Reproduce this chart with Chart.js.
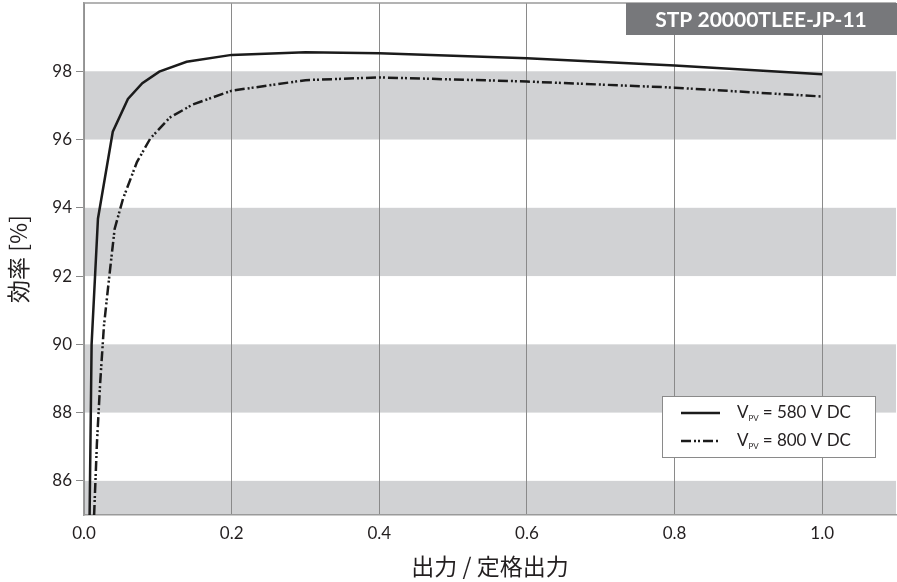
<!DOCTYPE html>
<html>
<head>
<meta charset="utf-8">
<script src="https://cdn.jsdelivr.net/npm/chart.js@4/dist/chart.umd.min.js"></script>
<style>
  html, body { margin: 0; padding: 0; background: #fff; }
  #wrap { width: 897px; height: 582px; position: relative; }
</style>
</head>
<body>
<div id="wrap"><canvas id="eff"></canvas></div>
<script>
// 効率曲線 (STP 20000TLEE-JP-11)
const xTicks = [0.0, 0.2, 0.4, 0.6, 0.8, 1.0];
const yTicks = [86, 88, 90, 92, 94, 96, 98];
const grayBands = [[84, 86], [88, 90], [92, 94], [96, 98]];

const load580 = [0.0076, 0.0103, 0.0189, 0.039, 0.0595, 0.079, 0.102, 0.139, 0.2, 0.3, 0.4, 0.6, 0.8, 1.0];
const eff580  = [85.0, 90.0, 93.68, 96.23, 97.19, 97.65, 97.99, 98.28, 98.48, 98.56, 98.53, 98.38, 98.17, 97.91];

const load800 = [0.0137, 0.0175, 0.022, 0.027, 0.0338, 0.0415, 0.0528, 0.0717, 0.0898, 0.116, 0.1476, 0.2, 0.3, 0.4, 0.6, 0.8, 1.0];
const eff800  = [85.0, 87.1, 88.9, 90.54, 91.9, 93.38, 94.26, 95.34, 96.03, 96.64, 97.03, 97.43, 97.74, 97.82, 97.7, 97.52, 97.26];

const seriesLabels = ['580 V DC', '800 V DC'];
const modelName = 'STP 20000TLEE-JP-11';

const toPoints = (xs, ys) => xs.map((x, i) => ({ x: x, y: ys[i] }));
const dashDotDot = [10, 3, 2, 2, 2, 3];
const textColor = '#231f20';
const axisColor = '#9a9a9a';
const tickFont = { family: 'Lato', size: 17 };
const titleFont = { family: 'Noto Sans CJK JP', size: 23, weight: '400' };

// 背景の灰色帯
const bandsPlugin = {
    id: 'bands',
    beforeDraw(chart) {
        const { ctx, chartArea: a, scales: { y } } = chart;
        ctx.save();
        ctx.fillStyle = '#d1d2d4';
        grayBands.forEach(([lo, hi]) => {
            const top = Math.max(y.getPixelForValue(hi), a.top);
            const bot = Math.min(y.getPixelForValue(lo), a.bottom);
            if (bot > top) ctx.fillRect(a.left, top, a.right - a.left, bot - top);
        });
        ctx.restore();
    }
};

// 上枠線・型式ラベル・凡例
const overlayPlugin = {
    id: 'overlay',
    afterDraw(chart) {
        const { ctx, chartArea: a } = chart;
        ctx.save();
        ctx.strokeStyle = axisColor;
        ctx.lineWidth = 1.5;
        ctx.beginPath();
        ctx.moveTo(a.left, a.top);
        ctx.lineTo(a.right, a.top);
        ctx.stroke();

        // model box
        ctx.fillStyle = '#77787b';
        ctx.fillRect(a.right - 270, a.top, 271, 32);
        ctx.fillStyle = '#fff';
        ctx.font = 'bold 21px Lato';
        ctx.textAlign = 'center';
        ctx.textBaseline = 'middle';
        ctx.fillText(modelName, a.right - 135, a.top + 17);

        // legend box
        const bx = 662, by = 396, bw = 213, bh = 61;
        ctx.fillStyle = '#fff';
        ctx.fillRect(bx, by, bw, bh);
        ctx.strokeStyle = '#8a8a8a';
        ctx.lineWidth = 1;
        ctx.strokeRect(bx + 0.5, by + 0.5, bw, bh);

        chart.data.datasets.forEach((ds, i) => {
            const ly = by + 17 + i * 28;
            ctx.strokeStyle = ds.borderColor;
            ctx.lineWidth = ds.borderWidth;
            ctx.setLineDash(ds.borderDash || []);
            ctx.beginPath();
            ctx.moveTo(bx + 19, ly);
            ctx.lineTo(bx + 58, ly);
            ctx.stroke();
            ctx.setLineDash([]);

            ctx.fillStyle = textColor;
            ctx.textAlign = 'left';
            ctx.textBaseline = 'middle';
            let tx = bx + 75;
            ctx.font = '17px Lato';
            ctx.fillText('V', tx, ly);
            tx += ctx.measureText('V').width;
            ctx.font = '8px Lato';
            ctx.fillText('PV', tx, ly + 5);
            tx += ctx.measureText('PV').width + 4;
            ctx.font = '17px Lato';
            ctx.fillText('= ' + seriesLabels[i], tx, ly);
        });
        ctx.restore();
    }
};

new Chart(document.getElementById('eff'), {
    type: 'line',
    data: {
        datasets: [
            {
                label: seriesLabels[0],
                data: toPoints(load580, eff580),
                borderColor: '#1b1b1b',
                borderWidth: 2.5,
                pointRadius: 0,
                tension: 0,
                fill: false
            },
            {
                label: seriesLabels[1],
                data: toPoints(load800, eff800),
                borderColor: '#1b1b1b',
                borderWidth: 2.5,
                borderDash: dashDotDot,
                pointRadius: 0,
                tension: 0,
                fill: false
            }
        ]
    },
    options: {
        responsive: true,
        maintainAspectRatio: false,
        animation: false,
        layout: { padding: { top: 3, right: 1, left: 0, bottom: 0 } },
        scales: {
            x: {
                type: 'linear',
                min: 0,
                max: 1.1,
                afterBuildTicks: s => { s.ticks = xTicks.map(v => ({ value: v })); },
                afterFit: s => { s.height = 67; s.paddingLeft = 0; s.paddingRight = 0; },
                ticks: {
                    color: textColor,
                    font: tickFont,
                    padding: 8,
                    maxRotation: 0,
                    callback: v => v.toFixed(1)
                },
                grid: { color: '#8a8a8a', lineWidth: 1, drawTicks: false },
                border: { display: true, color: axisColor, width: 1.5 },
                title: {
                    display: true,
                    text: '出力 / 定格出力',
                    color: textColor,
                    font: titleFont,
                    padding: { top: 0, bottom: 2 }
                }
            },
            y: {
                type: 'linear',
                min: 85,
                max: 100,
                afterBuildTicks: s => { s.ticks = yTicks.map(v => ({ value: v })); },
                afterFit: s => { s.width = 84; s.paddingTop = 0; s.paddingBottom = 0; },
                ticks: { color: textColor, font: tickFont, padding: 4 },
                grid: { drawOnChartArea: false, drawTicks: true, tickLength: 8, color: '#8a8a8a', lineWidth: 1 },
                border: { display: true, color: axisColor, width: 1.5 },
                title: {
                    display: true,
                    text: '効率 [%]',
                    color: textColor,
                    font: titleFont,
                    padding: { top: 4, bottom: 0 }
                }
            }
        },
        plugins: {
            legend: { display: false },
            tooltip: { enabled: false }
        }
    },
    plugins: [bandsPlugin, overlayPlugin]
});
</script>
</body>
</html>
